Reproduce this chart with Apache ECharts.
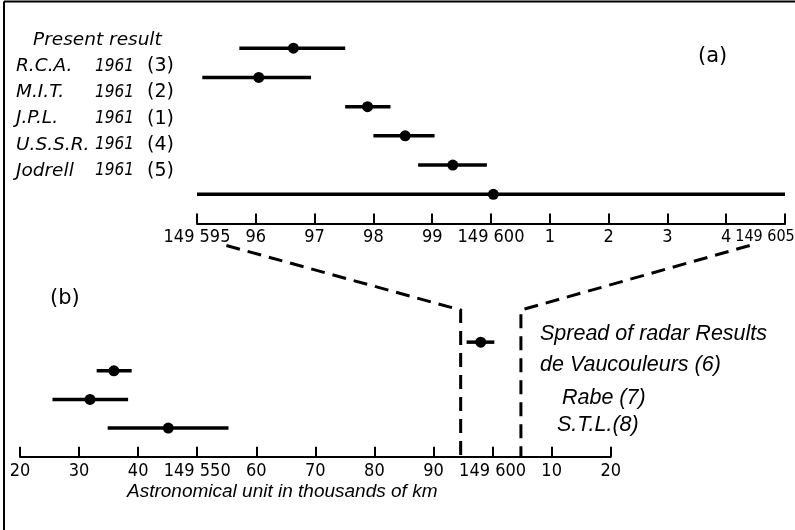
<!DOCTYPE html>
<html>
<head>
<meta charset="utf-8">
<script src="https://cdn.jsdelivr.net/npm/echarts@6/dist/echarts.min.js"></script>
<style>
  html, body { margin: 0; padding: 0; background: #fff; }
  #chart { width: 795px; height: 530px; }
</style>
</head>
<body>
<div id="chart"></div>
<script>
// (a) top panel: the 1961 radar results
const topNames = ["Present result", "R.C.A.", "M.I.T.", "J.P.L.", "U.S.S.R.", "Jodrell"];
const topYears = ["", "1961", "1961", "1961", "1961", "1961"];
const topRefs = ["", "(3)", "(2)", "(1)", "(4)", "(5)"];
const topCentre = [149596.64, 149596.05, 149597.90, 149598.54, 149599.35, 149600.04];
const topLow = [149595.72, 149595.09, 149597.52, 149598.00, 149598.76, 149595.00];
const topHigh = [149597.52, 149596.94, 149598.29, 149599.04, 149599.93, 149605.00];
const topTickLabels = ["149 595", "96", "97", "98", "99", "149 600", "1", "2", "3", "4", "149 605"];

// (b) bottom panel: older results on the wide scale
const bottomCentre = [149598.0, 149535.9, 149531.85, 149545.1];
const bottomLow = [149595.6, 149532.98, 149525.5, 149534.85];
const bottomHigh = [149600.3, 149538.9, 149538.3, 149555.3];
const bottomTickLabels = ["20", "30", "40", "149 550", "60", "70", "80", "90", "149 600", "10", "20"];

// dashed connectors: where they leave the top axis, where they drop on the bottom axis
const connectTop = [149595.5, 149604.4];
const connectBottom = [149594.6, 149604.8];

const notes = ["Spread of radar Results", "de Vaucouleurs (6)", "Rabe (7)", "S.T.L.(8)"];

const topMin = 149595, topMax = 149605;
const bottomMin = 149520, bottomMax = 149620;

const tickFont = "'DejaVu Sans Condensed', 'Liberation Sans Narrow', sans-serif";
const nameFont = "'DejaVu Sans', sans-serif";
const textFont = "'Liberation Sans', Arial, sans-serif";

const chart = echarts.init(document.getElementById("chart"));

const errorBar = (params, api) => {
  const y = api.value(3);
  const lo = api.coord([api.value(1), y]);
  const hi = api.coord([api.value(2), y]);
  const c = api.coord([api.value(0), y]);
  return {
    type: "group",
    children: [
      { type: "line", shape: { x1: lo[0], y1: lo[1], x2: hi[0], y2: hi[1] }, style: { stroke: "#000", lineWidth: 3.5 } },
      { type: "circle", shape: { cx: c[0], cy: c[1], r: 5.5 }, style: { fill: "#000" } },
    ],
  };
};

const topData = topCentre.map((v, i) => [v, topLow[i], topHigh[i], i + 1]);
const bottomData = bottomCentre.map((v, i) => [v, bottomLow[i], bottomHigh[i], i + 1]);

const axisCommon = {
  type: "value",
  axisLine: { show: true, onZero: false, lineStyle: { color: "#000", width: 2 } },
  axisTick: { show: true, inside: true, length: 10, lineStyle: { color: "#000", width: 2 } },
  splitLine: { show: false },
};

let option = {
  animation: false,
  backgroundColor: "#fff",
  grid: [
    { left: 197, right: 10, top: 19, bottom: 306.5, outerBoundsMode: "none", containLabel: false },
    { left: 20, right: 184.3, top: 313.5, bottom: 73.3, outerBoundsMode: "none", containLabel: false },
  ],
  xAxis: [
    Object.assign({}, axisCommon, {
      gridIndex: 0,
      min: topMin,
      max: topMax,
      interval: 1,
      axisLabel: {
        margin: 5,
        color: "#000",
        fontFamily: tickFont,
        fontSize: 18,
        showMinLabel: true,
        showMaxLabel: true,
        hideOverlap: false,
        formatter: (value) => {
          const i = Math.round(value - topMin);
          // last label sits left of its tick so it stays on the page
          return i === topTickLabels.length - 1 ? "{last|" + topTickLabels[i] + "}" : topTickLabels[i];
        },
        rich: {
          last: { fontFamily: tickFont, fontSize: 16, color: "#000", padding: [0, 40, 0, 0] },
        },
      },
    }),
    Object.assign({}, axisCommon, {
      gridIndex: 1,
      min: bottomMin,
      max: bottomMax,
      interval: 10,
      axisLabel: {
        margin: 6,
        color: "#000",
        fontFamily: tickFont,
        fontSize: 18,
        showMinLabel: true,
        showMaxLabel: true,
        hideOverlap: false,
        formatter: (value) => bottomTickLabels[Math.round((value - bottomMin) / 10)],
      },
    }),
  ],
  yAxis: [
    { type: "value", gridIndex: 0, min: 0, max: 7, inverse: true, show: false },
    { type: "value", gridIndex: 1, min: 0, max: 5, inverse: true, show: false },
  ],
  series: [
    { type: "custom", xAxisIndex: 0, yAxisIndex: 0, renderItem: errorBar, encode: { x: [0, 1, 2], y: 3 }, data: topData },
    { type: "custom", xAxisIndex: 1, yAxisIndex: 1, renderItem: errorBar, encode: { x: [0, 1, 2], y: 3 }, data: bottomData },
  ],
};
chart.setOption(option);

// everything that is placed by hand goes in the graphic layer
const graphic = [];

// frame (top and left edges only)
graphic.push({ type: "line", shape: { x1: 4, y1: 1.5, x2: 795, y2: 1.5 }, style: { stroke: "#000", lineWidth: 2 } });
graphic.push({ type: "line", shape: { x1: 4, y1: 1.5, x2: 4, y2: 530 }, style: { stroke: "#000", lineWidth: 2 } });

// row labels of panel (a)
const labelTop = 40, labelStep = 26.2;
topNames.forEach((name, i) => {
  const y = labelTop + i * labelStep;
  graphic.push({ type: "text", x: i === 0 ? 33 : 16, y: y, style: { text: name, font: "italic 18.5px " + nameFont, fill: "#000", verticalAlign: "middle" } });
  if (topYears[i]) {
    graphic.push({ type: "text", x: 95, y: y, style: { text: topYears[i], font: "italic 17px " + tickFont, fill: "#000", verticalAlign: "middle" } });
  }
  if (topRefs[i]) {
    graphic.push({ type: "text", x: 147, y: y, style: { text: topRefs[i], font: "19px " + nameFont, fill: "#000", verticalAlign: "middle" } });
  }
});

graphic.push({ type: "text", x: 698, y: 57, style: { text: "(a)", font: "21px " + nameFont, fill: "#000", verticalAlign: "middle" } });
graphic.push({ type: "text", x: 50, y: 299, style: { text: "(b)", font: "21px " + nameFont, fill: "#000", verticalAlign: "middle" } });

// notes on the right of panel (b)
const noteX = [540, 540, 562, 557];
const noteY = [334, 365, 398, 425];
notes.forEach((t, i) => {
  graphic.push({ type: "text", x: noteX[i], y: noteY[i], style: { text: t, font: "italic 21.5px " + textFont, fill: "#000", verticalAlign: "middle" } });
});

// axis title
graphic.push({ type: "text", x: 127, y: 492, style: { text: "Astronomical unit in thousands of km", font: "italic 19px " + textFont, fill: "#000", verticalAlign: "middle" } });

// dashed connectors from the top scale down to the bottom scale
const topAxisY = chart.convertToPixel({ yAxisIndex: 0 }, 7);
const bottomTopY = chart.convertToPixel({ yAxisIndex: 1 }, -0.12);
const bottomAxisY = chart.convertToPixel({ yAxisIndex: 1 }, 5);
connectTop.forEach((v, i) => {
  const x1 = chart.convertToPixel({ xAxisIndex: 0 }, v);
  const x2 = chart.convertToPixel({ xAxisIndex: 1 }, connectBottom[i]);
  graphic.push({
    type: "polyline",
    shape: { points: [[x1, topAxisY + 22], [x2, bottomTopY], [x2, bottomAxisY]] },
    style: { stroke: "#000", lineWidth: 3, lineDash: [14, 8], fill: null },
  });
});

chart.setOption({ graphic: graphic });
</script>
</body>
</html>
